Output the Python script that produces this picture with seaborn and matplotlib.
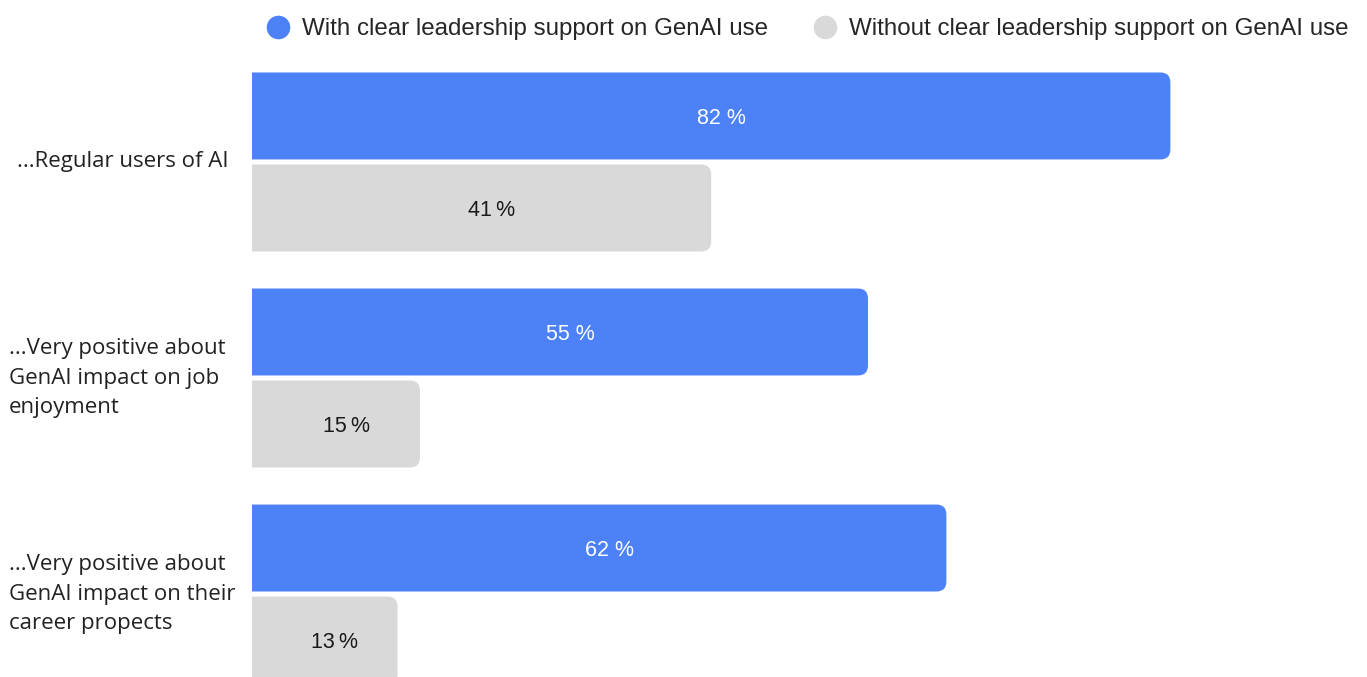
import pandas as pd
import matplotlib.pyplot as plt
import seaborn as sns
from matplotlib.lines import Line2D
from matplotlib.patches import FancyBboxPatch
from matplotlib.transforms import blended_transform_factory

categories = [
    '...Regular users of AI',
    '...Very positive about\nGenAI impact on job\nenjoyment',
    '...Very positive about\nGenAI impact on their\ncareer propects',
]
groups = ['With clear leadership support on GenAI use',
          'Without clear leadership support on GenAI use']
with_support = [82, 55, 62]
without_support = [41, 15, 13]

BLUE = '#4C81F8'
GREY = '#D9D9D9'

df = pd.DataFrame({
    'category': categories * 2,
    'group': [groups[0]] * 3 + [groups[1]] * 3,
    'value': with_support + without_support,
})

sns.set_theme(style='white')
plt.rcParams['font.family'] = ['Liberation Sans', 'DejaVu Sans']

W, H = 1367, 677
fig = plt.figure(figsize=(W / 100, H / 100), dpi=100)
ax = fig.add_axes([252 / W, 0, (W - 252) / W, (H - 60) / H])

sns.barplot(data=df, x='value', y='category', hue='group', orient='h',
            palette=[BLUE, GREY], width=0.852, gap=0.055, legend=False,
            saturation=1, ax=ax)

px_per_x = 11.2
ax.set_xlim(0, (W - 252) / px_per_x)
ax.set_ylim(2.384, -0.472)
ax.axis('off')

# swap the plain bars for ones with rounded right corners
aspect = (1 / 216) / (1 / px_per_x)
radius = 10 / px_per_x
for bar in list(ax.patches):
    x, y = bar.get_x(), bar.get_y()
    w, h = bar.get_width(), bar.get_height()
    color = bar.get_facecolor()
    bar.remove()
    ax.add_patch(FancyBboxPatch(
        (x - 2, y), w + 2, h,
        boxstyle=f'round,pad=0,rounding_size={radius}',
        mutation_aspect=aspect, facecolor=color, edgecolor='none'))
    is_blue = color[2] > 0.9 and color[0] < 0.5
    val = int(round(w))
    txt = f'{val} %' if is_blue else f'{val}\u2009%'
    ax.text(w / 2 + 0.9, y + h / 2 + 0.01, txt, ha='center', va='center',
            fontsize=15.5, color='white' if is_blue else '#1a1a1a')

# category labels on the left
trans = blended_transform_factory(fig.transFigure, ax.transData)
for i, cat in enumerate(categories):
    x0 = 17 if i == 0 else 9
    ax.text(x0 / W, i, cat, transform=trans, ha='left', va='center',
            multialignment='left', fontsize=16, color='#222222',
            family=['Open Sans', 'DejaVu Sans'], linespacing=1.55)

handles = [Line2D([], [], marker='o', linestyle='none', markersize=17,
                  markerfacecolor=c, markeredgecolor='none')
           for c in (BLUE, GREY)]
fig.legend(handles, groups, loc='center left',
           bbox_to_anchor=(266 / W, 1 - 29 / H), ncol=2, frameon=False,
           fontsize=17.4, handlelength=1.0, handletextpad=0.5,
           columnspacing=1.86, borderpad=0, borderaxespad=0)

fig.savefig('out.png', dpi=100, facecolor='white')
